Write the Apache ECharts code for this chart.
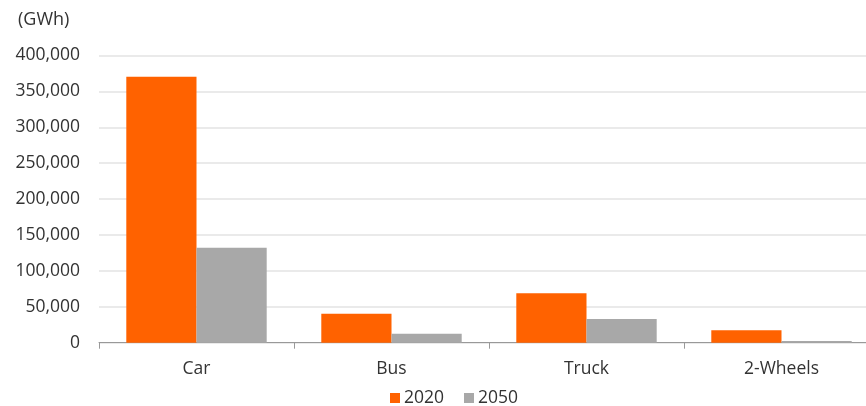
<!DOCTYPE html>
<html>
<head>
<meta charset="utf-8">
<script src="https://cdn.jsdelivr.net/npm/echarts@6/dist/echarts.min.js"></script>
<style>
  html, body { margin: 0; padding: 0; background: #fff; overflow: hidden; }
  #chart { width: 880px; height: 406px; }
</style>
</head>
<body>
<div id="chart"></div>
<script>
const categories = ['Car', 'Bus', 'Truck', '2-Wheels']
const values2020 = [370500, 40400, 68800, 17300]
const values2050 = [132300, 12500, 33000, 2400]
const yTicks = [0, 50000, 100000, 150000, 200000, 250000, 300000, 350000, 400000]

const myChart = echarts.init(document.getElementById('chart'))
const font = 'Open Sans'
const option = {
  animation: false,
  textStyle: { fontFamily: font },
  title: {
    text: '(GWh)',
    left: 13,
    top: 6,
    textStyle: { fontFamily: font, fontSize: 18, fontWeight: 'normal', color: '#333' }
  },
  legend: {
    top: 384,
    left: 385,
    itemWidth: 10,
    itemHeight: 10,
    itemGap: 20,
    icon: 'rect',
    textStyle: { fontFamily: font, fontSize: 17.5, color: '#333', padding: [0, 0, 0, -1] },
    data: ['2020', '2050']
  },
  grid: {
    left: 99,
    top: 55.5,
    width: 780,
    height: 287.2,
    containLabel: false
  },
  xAxis: {
    type: 'category',
    data: categories,
    axisLine: { lineStyle: { color: '#999', width: 1 } },
    axisTick: { show: true, length: 6, lineStyle: { color: '#999' } },
    axisLabel: { fontFamily: font, fontSize: 17.5, color: '#333', margin: 17 }
  },
  yAxis: {
    type: 'value',
    min: yTicks[0],
    max: yTicks[yTicks.length - 1],
    interval: 50000,
    axisLine: { show: false },
    axisTick: { show: false },
    splitLine: { lineStyle: { color: '#e3e3e3', width: 1.5 } },
    axisLabel: {
      fontFamily: font,
      fontSize: 17.5,
      color: '#333',
      margin: 19,
      formatter: v => v.toLocaleString('en-US')
    }
  },
  series: [
    {
      name: '2020',
      type: 'bar',
      data: values2020,
      barGap: '0%',
      barCategoryGap: '28%',
      itemStyle: { color: '#ff6200' }
    },
    {
      name: '2050',
      type: 'bar',
      data: values2050,
      itemStyle: { color: '#a8a8a8' }
    }
  ]
}
myChart.setOption(option)
</script>
</body>
</html>
